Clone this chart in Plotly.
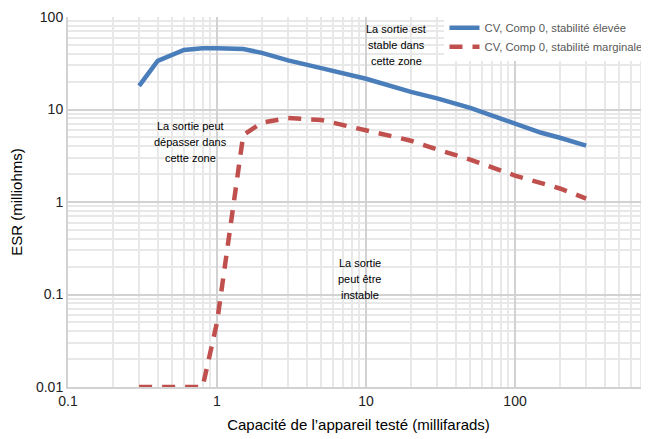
import math
import plotly.graph_objects as go

# Data
cap_high = [0.3, 0.4, 0.6, 0.8, 1, 1.5, 2, 3, 5, 10, 20, 30, 50, 100, 150, 200, 300]
esr_high = [18, 33.6, 44, 46, 46, 45, 41, 34, 28, 21.5, 15.5, 13.2, 10.4, 7.0, 5.6, 4.95, 4.06]

cap_marg = [0.3, 0.4, 0.6, 0.8, 1.0, 1.5, 2, 3, 5, 10, 20, 30, 50, 100, 200, 300]
esr_marg = [0.01, 0.01, 0.01, 0.01, 0.05, 5.3, 7.2, 8.1, 7.7, 5.9, 4.6, 3.7, 2.87, 1.93, 1.4, 1.09]

x_tickvals = [0.1, 1, 10, 100]
x_ticktext = ["0.1", "1", "10", "100"]
y_tickvals = [0.01, 0.1, 1, 10, 100]
y_ticktext = ["0.01", "0.1", "1", "10", "100"]

x_minor = [k * 10 ** d for d in range(-1, 3) for k in range(2, 10)]
y_minor = [k * 10 ** d for d in range(-2, 2) for k in range(2, 10)]

name_high = "CV, Comp 0, stabilité élevée"
name_marg = "CV, Comp 0, stabilité marginale"

zones = [
    (15.9, 49.9, ["La sortie est", "stable dans", "cette zone"]),
    (0.66, 4.5, ["La sortie peut", "dépasser dans", "cette zone"]),
    (9.1, 0.146, ["La sortie", "peut être", "instable"]),
]

FONT = "Liberation Sans, Arial, sans-serif"

fig = go.Figure()
fig.add_trace(go.Scatter(x=cap_high, y=esr_high, mode="lines", name=name_high,
                         line=dict(color="#4a7ebb", width=4.5)))
fig.add_trace(go.Scatter(x=cap_marg, y=esr_marg, mode="lines", name=name_marg,
                         line=dict(color="#c0504d", width=4.5, dash="13px,10px")))

for x, y, lines in zones:
    for i, t in enumerate(lines):
        fig.add_annotation(x=math.log10(x), y=math.log10(y), xref="x", yref="y", text=t,
                           showarrow=False, align="center", yshift=(1 - i) * 16,
                           font=dict(family=FONT, size=11, color="#000000"))

# cut-off 1000 label at the right edge
fig.add_annotation(x=1.0224, y=0, xref="paper", yref="paper", text="1000", showarrow=False,
                   xanchor="center", yanchor="top", yshift=-6,
                   font=dict(family=FONT, size=14, color="#222222"))

grid_minor = "#e8e8e8"
grid_major = "#d2d2d2"

fig.update_layout(
    template="none",
    width=649, height=439,
    margin=dict(l=60, r=8, t=9, b=60, autoexpand=False),
    paper_bgcolor="white", plot_bgcolor="white",
    font=dict(family=FONT, size=14, color="#222222"),
    showlegend=True,
    legend=dict(x=0.648, y=1.01, xanchor="left", yanchor="top",
                bgcolor="white", borderwidth=0,
                font=dict(family=FONT, size=11.3, color="#595959"),
                tracegroupgap=0),
    xaxis=dict(type="log", range=[-1, 2.899], tickmode="array",
               tickvals=x_tickvals, ticktext=x_ticktext, automargin=False,
               showgrid=True, gridcolor=grid_major, gridwidth=1.5,
               minor=dict(tickmode="array", tickvals=x_minor, showgrid=True,
                          gridcolor=grid_minor, gridwidth=1.6, ticks=""),
               showline=True, linecolor="#d2d2d2", linewidth=2, ticks="",
               zeroline=False,
               title=dict(text="Capacité de l’appareil testé (millifarads)",
                          font=dict(family=FONT, size=15, color="#000000"), standoff=12),
               tickfont=dict(family=FONT, size=14, color="#222222")),
    yaxis=dict(type="log", range=[-2, 2], tickmode="array",
               tickvals=y_tickvals, ticktext=y_ticktext, automargin=False,
               showgrid=True, gridcolor=grid_major, gridwidth=1.5,
               minor=dict(tickmode="array", tickvals=y_minor, showgrid=True,
                          gridcolor=grid_minor, gridwidth=1.6, ticks=""),
               showline=True, linecolor="#d2d2d2", linewidth=2, ticks="",
               zeroline=False,
               title=dict(text="ESR (milliohms)",
                          font=dict(family=FONT, size=15, color="#000000"), standoff=12),
               tickfont=dict(family=FONT, size=14, color="#222222")),
)

fig.write_html("out.html")
